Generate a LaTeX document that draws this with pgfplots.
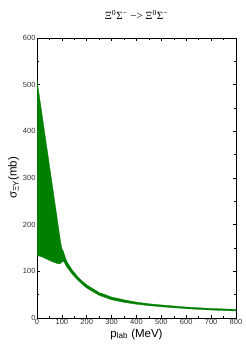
\documentclass[border=0pt]{standalone}
\usepackage{pgfplots}
\pgfplotsset{compat=1.18}
\usepgfplotslibrary{fillbetween}
\usepackage{fontspec}
\setmainfont{Liberation Sans}
\newfontfamily\serifttl{Liberation Serif}
\definecolor{bandgreen}{RGB}{0,128,0}
\pgfplotstableread{
p upper
0 510
10 474
20 437
40 364
60 291
80 218
95 163
100 148
103 146
106 143
110 136
120 121
140 104
160 91
180 80
200 71
250 54.5
300 45
350 39
400 34
450 30.5
500 28
600 23.5
700 20.5
800 18.5
}\uppertab
\pgfplotstableread{
p lower
0 134
20 131
40 126
60 121
80 117
90 116
97 118
102 122
106 121
110 119
120 109
140 95
160 83
180 73
200 64
250 48.5
300 39
350 33.5
400 29.5
450 26.5
500 24
600 20
700 17
800 15
}\lowertab
\begin{document}
\begin{tikzpicture}
\begin{axis}[
  name=ax,
  scale only axis,
  width=199pt, height=280pt,
  xmin=0, xmax=800, ymin=0, ymax=600,
  xtick={0,100,...,800}, ytick={0,100,...,600},
  minor x tick num=1, minor y tick num=1,
  tick align=inside,
  major tick length=3pt, minor tick length=2pt,
  axis line style={line width=0.8pt},
  every tick/.style={black, line width=0.6pt},
  tick label style={font=\fontsize{7.5}{8}\selectfont, text=black!80},
  /pgf/number format/assume math mode=true,
  xticklabel style={yshift=2pt},
  yticklabel style={xshift=2pt},
  xlabel={p\textsubscript{lab} (MeV)},
  ylabel={σ\textsubscript{ΞY}(mb)},
  label style={font=\fontsize{11.5}{13}\selectfont},
  xlabel style={yshift=3pt},
  ylabel style={yshift=-3pt},
  title={\serifttl\fontsize{11}{12}\selectfont Ξ\textsuperscript{0}Σ\textsuperscript{−} −> Ξ\textsuperscript{0}Σ\textsuperscript{−}},
  title style={yshift=9pt},
  clip=true,
]
\addplot[name path=up, draw=bandgreen, line width=0.3pt] table[x=p,y=upper]{\uppertab};
\addplot[name path=lo, draw=bandgreen, line width=0.3pt] table[x=p,y=lower]{\lowertab};
\addplot[bandgreen] fill between[of=up and lo];
\end{axis}
\path[use as bounding box] ([xshift=-37pt,yshift=-26pt]ax.south west) rectangle ([xshift=7pt,yshift=38pt]ax.north east);
\end{tikzpicture}
\end{document}
